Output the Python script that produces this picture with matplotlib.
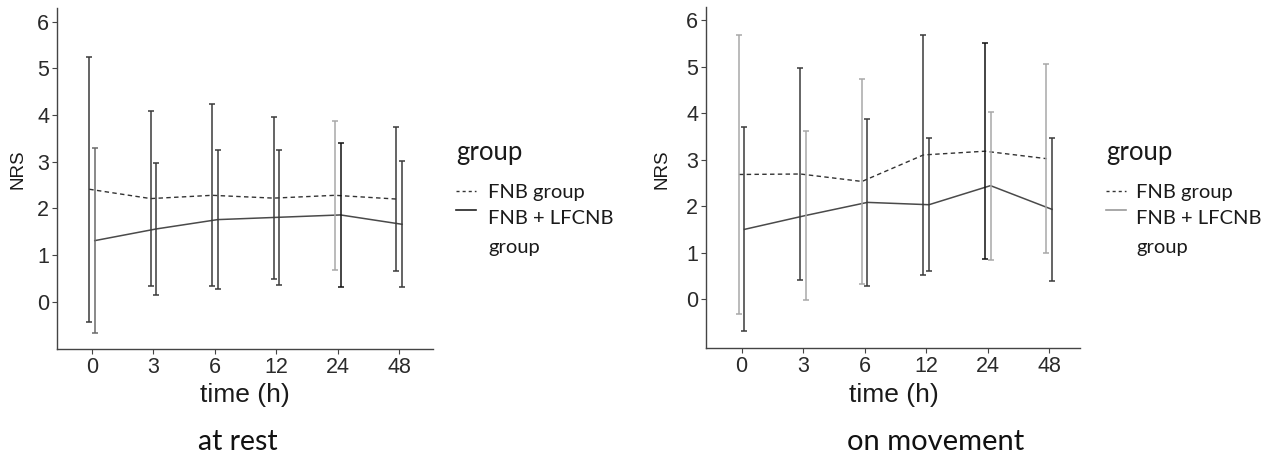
import matplotlib
matplotlib.use("Agg")
import matplotlib.pyplot as plt
import numpy as np
from matplotlib.lines import Line2D
from matplotlib.legend_handler import HandlerLine2D

# time points (hours) shown as discrete categories
time_labels = ["0", "3", "6", "12", "24", "48"]

# NRS at rest: mean and SD per group
rest_fnb_mean = [2.41, 2.21, 2.28, 2.22, 2.28, 2.20]
rest_fnb_sd = [2.84, 1.88, 1.95, 1.73, 1.60, 1.55]
rest_lfcnb_mean = [1.31, 1.56, 1.76, 1.81, 1.86, 1.66]
rest_lfcnb_sd = [1.98, 1.42, 1.48, 1.45, 1.55, 1.35]

# NRS on movement: mean and SD per group
move_fnb_mean = [2.68, 2.69, 2.53, 3.10, 3.18, 3.02]
move_fnb_sd = [3.00, 2.27, 2.21, 2.58, 2.32, 2.03]
move_lfcnb_mean = [1.50, 1.80, 2.08, 2.03, 2.44, 1.93]
move_lfcnb_sd = [2.19, 1.81, 1.79, 1.43, 1.59, 1.53]

group_labels = ["FNB group", "FNB + LFCNB\ngroup"]
panel_titles = ["at rest", "on movement"]

W, H = 1270, 457
fig = plt.figure(figsize=(W / 100, H / 100), dpi=100)

TICK_FONT = "Liberation Sans"
TEXT_FONT = "Lato"
DARK = "#3a3a3a"
LIGHT = "#a8a8a8"
DODGE = 0.045


class RaisedLine(HandlerLine2D):
    """Legend key drawn a fixed number of points above its usual spot."""

    def __init__(self, raise_pt=0.0, **kw):
        super().__init__(**kw)
        self.raise_pt = raise_pt

    def create_artists(self, legend, orig_handle, xdescent, ydescent,
                       width, height, fontsize, trans):
        arts = super().create_artists(legend, orig_handle, xdescent, ydescent,
                                      width, height, fontsize, trans)
        for a in arts:
            a.set_ydata(np.asarray(a.get_ydata(), dtype=float) + self.raise_pt)
        return arts


def px_axes(left, top, right, bottom):
    return fig.add_axes([left / W, 1 - bottom / H, (right - left) / W, (bottom - top) / H])


def draw_panel(ax, fnb_m, fnb_s, lf_m, lf_s, ylim, xlim, fnb_shades, lf_shades, leg_solid):
    x = np.arange(1, len(time_labels) + 1)
    xf = x - DODGE
    xl = x + DODGE
    ax.plot(xf, fnb_m, color="#333333", lw=1.0, dashes=(3.2, 2.4))
    ax.plot(xl, lf_m, color="#4a4a4a", lw=1.1)
    for xs, m, s, shades in ((xf, fnb_m, fnb_s, fnb_shades), (xl, lf_m, lf_s, lf_shades)):
        for xi, mi, si, c in zip(xs, m, s, shades):
            ax.errorbar([xi], [mi], yerr=[si], fmt="none", ecolor=c,
                        elinewidth=1.1, capsize=1.9, capthick=1.1)
    ax.set_xlim(*xlim)
    ax.set_ylim(*ylim)
    ax.set_xticks(x)
    ax.set_xticklabels(time_labels)
    ax.set_yticks(range(0, 7))
    for sp in ("top", "right"):
        ax.spines[sp].set_visible(False)
    for sp in ("left", "bottom"):
        ax.spines[sp].set_color("#444444")
        ax.spines[sp].set_linewidth(1.0)
    ax.tick_params(axis="both", length=3.5, width=0.8, color="#444444",
                   labelsize=15.5, labelcolor="#2a2a2a", pad=2)
    for lab in ax.get_xticklabels() + ax.get_yticklabels():
        lab.set_fontfamily(TICK_FONT)
    ax.set_xlabel("time (h)", fontsize=19, family=TICK_FONT, color="#1a1a1a")
    ax.set_ylabel("NRS", fontsize=13.5, family=TICK_FONT, color="#1a1a1a")
    handles = [Line2D([], [], color="#333333", lw=1.0, dashes=(2.2, 2.2)),
               Line2D([], [], color=leg_solid, lw=1.2)]
    return handles


axL = px_axes(57, 8, 433, 349)
hL = draw_panel(axL, rest_fnb_mean, rest_fnb_sd, rest_lfcnb_mean, rest_lfcnb_sd,
                (-1.01, 6.29), (0.43, 6.55),
                [DARK, DARK, DARK, DARK, LIGHT, DARK],
                ["#6a6a6a", DARK, DARK, DARK, "#111111", DARK], "#222222")
axL.xaxis.set_label_coords(0.499, -0.100)
axL.yaxis.set_label_coords(-0.082, 0.528)

axR = px_axes(705.7, 7, 1080, 348)
hR = draw_panel(axR, move_fnb_mean, move_fnb_sd, move_lfcnb_mean, move_lfcnb_sd,
                (-1.05, 6.28), (0.415, 6.5),
                [LIGHT, DARK, LIGHT, DARK, "#111111", LIGHT],
                [DARK, LIGHT, DARK, DARK, LIGHT, DARK], "#9a9a9a")
axR.xaxis.set_label_coords(0.502, -0.103)
axR.yaxis.set_label_coords(-0.095, 0.525)


def add_legend(ax, handles, left_px, top_px, textpad):
    leg = ax.legend(handles, group_labels, title="group", loc="upper left",
                    bbox_to_anchor=(left_px / W, 1 - top_px / H),
                    bbox_transform=fig.transFigure, frameon=False,
                    prop={"family": TEXT_FONT, "size": 14.5},
                    title_fontproperties={"family": TEXT_FONT, "size": 18.5},
                    alignment="left", handlelength=1.0, handletextpad=textpad,
                    labelspacing=0.45, borderpad=0, borderaxespad=0,
                    handler_map={handles[1]: RaisedLine(raise_pt=17.0)})
    for t in leg.get_texts():
        t.set_color("#1a1a1a")
        t.set_linespacing(1.85)
    leg.get_title().set_color("#1a1a1a")
    # wider gap between the title and the first key
    leg._legend_box.sep = 0.95 * 14.5
    return leg


add_legend(axL, hL, 456, 140, 0.6)
add_legend(axR, hR, 1106, 140, 0.5)

fig.text(238 / W, 1 - 450 / H, panel_titles[0], ha="center", va="baseline",
         family=TEXT_FONT, fontsize=20.5, color="#111111")
fig.text(936 / W, 1 - 450 / H, panel_titles[1], ha="center", va="baseline",
         family=TEXT_FONT, fontsize=21, color="#111111")

fig.savefig("out.png", dpi=100)
